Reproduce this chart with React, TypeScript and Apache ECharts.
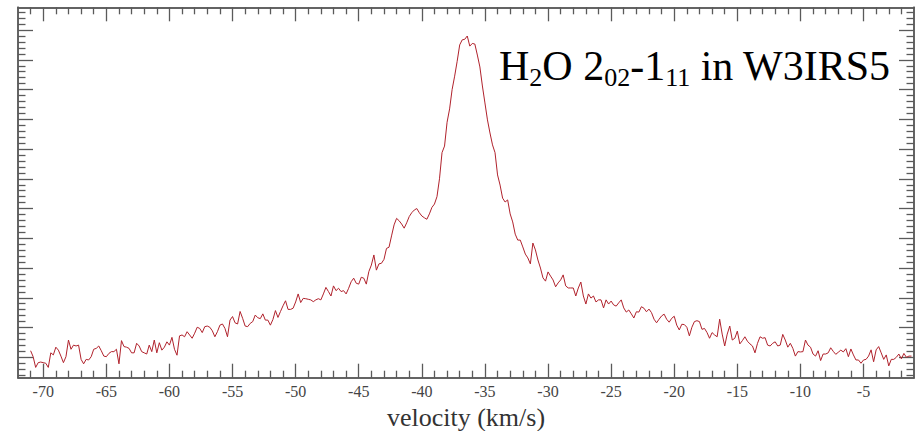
import React, { useEffect, useRef } from 'react';
import * as echarts from 'echarts';

// Spectrum channels: velocity grid (km/s)
const V_START = -71.0;
const V_STEP = 0.2;

// Line intensity (arbitrary units; one major y tick = 1)
const intensity = [
  // -71.0 .. -59.4
  0.22, 0.02, -0.34, -0.18, -0.16, -0.18, -0.20, -0.34, 0.15, 0.08,
  0.34, 0.24, 0.04, -0.18, 0.02, 0.58, 0.27, 0.41, 0.38, 0.41,
  -0.07, -0.22, -0.07, -0.09, 0.02, 0.27, 0.30, 0.38, 0.22, 0.04,
  0.02, 0.13, 0.19, 0.19, 0.27, -0.22, 0.56, 0.36, 0.34, 0.30,
  0.15, 0.15, 0.47, 0.38, 0.19, 0.15, 0.11, 0.41, 0.19, 0.58,
  0.15, 0.49, 0.24, 0.34, 0.52, 0.41, 0.67, 0.27, 0.07,
  // -59.2 .. -46.6
  0.72, 0.75, 0.69, 0.86, 0.75, 0.64, 0.81, 1.01, 0.97, 0.83,
  1.03, 1.05, 1.01, 0.89, 0.69, 0.86, 1.08, 1.12, 0.97, 0.69,
  1.25, 1.37, 1.16, 1.12, 1.54, 1.31, 1.05, 1.03, 1.14, 1.20,
  1.42, 1.33, 1.30, 1.46, 1.25, 1.25, 1.08, 1.27, 1.57, 1.34,
  1.54, 1.73, 1.90, 1.61, 1.61, 1.65, 1.86, 2.13, 1.84, 1.98,
  1.97, 1.95, 1.93, 1.87, 1.93, 1.97, 1.93, 2.13, 2.35, 2.21,
  2.06, 2.40, 2.24, 2.32,
  // -46.4 .. -35.6
  2.21, 2.24, 2.13, 2.32, 2.54, 2.66, 2.49, 2.46, 2.69, 2.66,
  2.46, 2.88, 3.10, 3.44, 2.93, 3.14, 3.16, 3.29, 3.66, 3.70,
  4.08, 4.45, 4.67, 4.59, 4.48, 4.34, 4.52, 4.73, 4.86, 4.95,
  5.00, 4.86, 4.75, 4.69, 4.64, 4.82, 5.04, 5.15, 5.40, 6.00,
  6.88, 7.10, 7.90, 8.35, 9.00, 9.45, 9.95, 10.50, 10.67, 10.69,
  10.80, 10.46, 10.55, 10.53, 10.16,
  // -35.4 .. -23.2
  9.76, 9.12, 8.55, 7.98, 7.54, 7.14, 6.88, 6.13, 5.79, 5.35,
  5.22, 5.29, 4.82, 4.55, 4.14, 3.94, 3.94, 3.71, 3.47, 3.34,
  3.14, 3.84, 3.61, 3.27, 3.00, 2.67, 2.56, 2.87, 2.73, 2.60,
  2.37, 2.50, 2.60, 2.77, 2.40, 2.33, 2.33, 2.33, 2.06, 2.33,
  2.53, 2.06, 1.79, 2.13, 1.99, 2.06, 1.86, 1.93, 1.93, 1.66,
  1.93, 1.79, 1.89, 1.76, 1.72, 1.83, 1.93, 1.66, 1.52, 1.59,
  1.46, 1.32,
  // -23.0 .. -11.0
  1.53, 1.52, 1.70, 1.65, 1.53, 1.62, 1.50, 1.28, 1.16, 1.28,
  1.39, 1.45, 1.28, 1.18, 1.31, 1.38, 1.08, 0.92, 1.11, 1.10,
  1.01, 0.72, 1.01, 1.20, 1.23, 1.20, 0.94, 0.97, 0.83, 0.64,
  0.83, 0.75, 0.69, 1.28, 0.78, 0.38, 0.78, 1.05, 0.58, 0.64,
  0.88, 0.45, 0.56, 0.69, 0.54, 0.45, 0.38, 0.15, 0.47, 0.69,
  0.64, 0.66, 0.41, 0.38, 0.47, 0.52, 0.38, 0.41, 0.77, 0.58,
  0.34,
  // -10.8 .. -1.2
  0.47, 0.30, 0.04, 0.19, 0.18, 0.19, 0.58, 0.41, 0.34, 0.11,
  0.04, 0.22, -0.11, 0.11, 0.11, 0.15, 0.32, 0.20, 0.10, 0.17,
  0.24, 0.18, 0.29, 0.02, 0.28, 0.08, -0.09, -0.09, -0.20, -0.09,
  -0.07, 0.04, 0.25, -0.15, 0.25, 0.36, 0.15, -0.07, 0.08, -0.29,
  -0.07, -0.07, 0.00, 0.11, -0.05, 0.13, 0.00, 0.04, 0.04,
];

// Axis extents and tick values
const X_MIN = -72;
const X_MAX = -1;
const xMajorTicks = [-70, -65, -60, -55, -50, -45, -40, -35, -30, -25, -20, -15, -10, -5];
const xMinorTicks: number[] = [];
for (let v = -71; v <= -2; v++) if (v % 5 !== 0) xMinorTicks.push(v);

const Y_MIN = -0.686;
const Y_MAX = 11.765;
const yMajorTicks = [0, 1, 2, 3, 4, 5, 6, 7, 8, 9, 10, 11];
const yMinorTicks: number[] = [];
for (let k = -3; k <= 58; k++) if (k % 5 !== 0) yMinorTicks.push(+(k * 0.2).toFixed(2));

const AXIS_NAME = 'velocity (km/s)';

export default function App() {
  const ref = useRef<HTMLDivElement>(null);
  useEffect(() => {
    const chart = echarts.init(ref.current!, null, { renderer: 'svg' });
    const data = intensity.map((y, i) => [+(V_START + i * V_STEP).toFixed(2), y]);
    const axisColor = '#5a5a5a';
    const font = 'Liberation Serif';
    const line = { show: true, onZero: false, lineStyle: { color: axisColor, width: 1.5 } };

    const xa = (grid: number, pos: string, ticks: number[], len: number, labels: boolean) => ({
      type: 'value', gridIndex: grid, position: pos, min: X_MIN, max: X_MAX,
      axisLine: line, splitLine: { show: false },
      axisTick: { show: true, inside: true, length: len, customValues: ticks, lineStyle: { color: axisColor, width: 1.3 } },
      axisLabel: labels
        ? { show: true, customValues: ticks, margin: 6, color: '#444', fontFamily: font, fontSize: 16 }
        : { show: false },
    });
    const ya = (grid: number, pos: string, ticks: number[], len: number) => ({
      type: 'value', gridIndex: grid, position: pos, min: Y_MIN, max: Y_MAX,
      axisLine: line, splitLine: { show: false },
      axisTick: { show: true, inside: true, length: len, customValues: ticks, lineStyle: { color: axisColor, width: 1.3 } },
      axisLabel: { show: false },
    });

    const bottomMain: any = xa(0, 'bottom', xMajorTicks, 14, true);
    bottomMain.name = AXIS_NAME;
    bottomMain.nameLocation = 'middle';
    bottomMain.nameGap = 12;
    bottomMain.nameTextStyle = { fontSize: 26, lineHeight: 26, color: '#333', fontFamily: font, fontWeight: 'normal' };

    const gridBox = { left: 18, right: 6, top: 7.3, bottom: 53.3, outerBoundsMode: 'none', containLabel: false };

    chart.setOption({
      animation: false,
      backgroundColor: '#fff',
      textStyle: { fontFamily: font },
      title: {
        text: '{m|H}{s|2}{m|O 2}{s|02}{m|-1}{s|11}{m| in W3IRS5}',
        left: 499,
        top: 42,
        padding: 0,
        textStyle: {
          fontWeight: 'normal',
          fontFamily: font,
          rich: {
            m: { fontSize: 42, lineHeight: 48, fontFamily: font, fontWeight: 'normal', color: '#000' },
            s: { fontSize: 26, lineHeight: 32, verticalAlign: 'bottom', fontFamily: font, fontWeight: 'normal', color: '#000' },
          },
        },
      },
      grid: [gridBox, { ...gridBox }],
      xAxis: [
        bottomMain,
        xa(0, 'top', xMajorTicks, 14, false),
        xa(1, 'bottom', xMinorTicks, 7, false),
        xa(1, 'top', xMinorTicks, 7, false),
      ],
      yAxis: [
        ya(0, 'left', yMajorTicks, 15),
        ya(0, 'right', yMajorTicks, 15),
        ya(1, 'left', yMinorTicks, 7.5),
        ya(1, 'right', yMinorTicks, 7.5),
      ],
      series: [
        {
          type: 'line',
          xAxisIndex: 0,
          yAxisIndex: 0,
          data,
          showSymbol: false,
          symbol: 'none',
          lineStyle: { color: '#b0222c', width: 1 },
        },
      ],
    });
    return () => chart.dispose();
  }, []);
  return <div ref={ref} style={{ position: 'absolute', left: 0, top: 0, width: 920, height: 431 }} />;
}
